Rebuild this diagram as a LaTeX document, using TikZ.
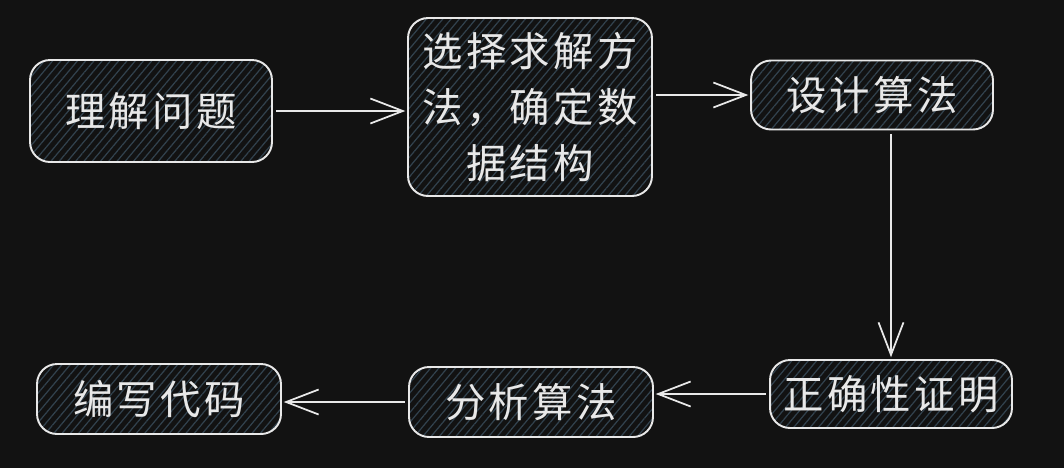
\documentclass[tikz,border=0pt]{standalone}
\usepackage{fontspec}
\newfontfamily\cjk[LetterSpace=8]{Noto Sans CJK SC}
\usepackage{tikz}
\usetikzlibrary{arrows.meta,patterns.meta}
\definecolor{bg}{RGB}{18,18,18}
\definecolor{chalk}{RGB}{232,232,232}
\definecolor{hatch}{RGB}{50,66,78}

\tikzset{
	box/.style={draw=chalk, line width=1.1pt, rounded corners=0.4cm, preaction={fill=bg},
		pattern={Lines[angle=50,distance=3.6pt,line width=0.7pt]}, pattern color=hatch,
		text=chalk, font=\cjk\fontsize{23}{32}\selectfont, align=center, inner sep=0pt},
	link/.style={draw=chalk, line width=1pt, shorten <=2pt, shorten >=1pt,
		-{Straight Barb[length=0.65cm,width=0.5cm,line width=1pt]}}
}

\begin{document}
\begin{tikzpicture}[x=0.02cm,y=-0.02cm]
	\useasboundingbox (0,0) rectangle (1064,468);
	\fill[bg] (0,0) rectangle (1064,468);

	\node[box, minimum width=4.84cm, minimum height=2.04cm] (1) at (151,111) {理解问题};
	\node[box, minimum width=4.88cm, minimum height=3.56cm, text width=4.7cm] (2) at (530,107) {选择求解方\\法，确定数\\据结构};
	\node[box, minimum width=4.84cm, minimum height=1.38cm] (3) at (872,95) {设计算法};
	\node[box, minimum width=4.84cm, minimum height=1.36cm] (4) at (891,394) {正确性证明};
	\node[box, minimum width=4.88cm, minimum height=1.40cm] (5) at (531,402) {分析算法};
	\node[box, minimum width=4.88cm, minimum height=1.40cm] (6) at (159,399) {编写代码};

	% top row
	\draw[link] (1.east) -- (1.east -| 2.west);
	\draw[link] (2.east |- 3.west) -- (3.west);
	% down
	\draw[link] (3.south -| 4.north) -- (4.north);
	% bottom row
	\draw[link] (4.west) -- (4.west -| 5.east);
	\draw[link] (5.west) -- (5.west -| 6.east);
\end{tikzpicture}
\end{document}
